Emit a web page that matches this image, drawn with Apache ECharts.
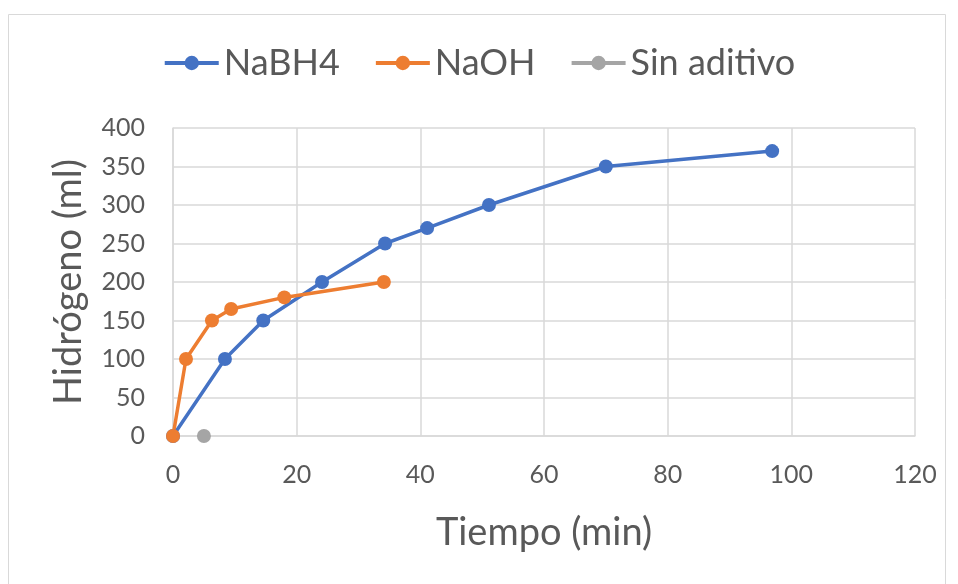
<!DOCTYPE html>
<html>
<head>
<meta charset="utf-8">
<script src="https://cdn.jsdelivr.net/npm/echarts@6/dist/echarts.min.js"></script>
<style>html,body{margin:0;padding:0;background:#fff}#c{width:958px;height:584px}</style>
</head>
<body>
<div id="c"></div>
<script>
const seriesNames = ['NaBH4', 'NaOH', 'Sin aditivo'];
const nabh4Time = [0, 8.4, 14.6, 24.1, 34.3, 41.1, 51.1, 70, 96.9];
const nabh4H2 = [0, 100, 150, 200, 250, 270, 300, 350, 370];
const naohTime = [0, 2.1, 6.3, 9.4, 18, 34.1];
const naohH2 = [0, 100, 150, 165, 180, 200];
const sinTime = [5];
const sinH2 = [0];
const xTicks = { min: 0, max: 120, interval: 20 };
const yTicks = { min: 0, max: 400, interval: 50 };
const colors = ['#4472C4', '#ED7D31', '#A5A5A5'];

const font = 'Lato, "Open Sans", sans-serif';
const zip = (a, b) => a.map((v, i) => [v, b[i]]);
const chart = echarts.init(document.getElementById('c'));
const mk = (name, data, color) => ({
  name, type: 'line', data, color,
  symbol: 'circle', symbolSize: 14,
  lineStyle: { width: 3.5, color },
  itemStyle: { color },
  animation: false
});
chart.setOption({
  animation: false,
  graphic: [{ type: 'rect', shape: { x: 8.5, y: 14.5, width: 937, height: 580 }, style: { fill: 'none', stroke: '#d9d9d9', lineWidth: 1 } }],
  legend: {
    top: 40, left: 'center', itemWidth: 54, itemHeight: 18, itemGap: 34,
    lineStyle: { width: 4 },
    textStyle: { fontFamily: font, fontSize: 36, color: '#595959' },
    data: seriesNames
  },
  grid: { left: 173, right: 43, top: 128, bottom: 148, containLabel: false },
  xAxis: {
    type: 'value', min: xTicks.min, max: xTicks.max, interval: xTicks.interval,
    name: 'Tiempo (min)', nameLocation: 'middle', nameGap: 78,
    nameTextStyle: { fontFamily: font, fontSize: 38, color: '#595959' },
    axisLine: { show: true, lineStyle: { color: '#d9d9d9', width: 1.5 } },
    axisTick: { show: false },
    axisLabel: { margin: 26, fontFamily: font, fontSize: 25, color: '#595959' },
    splitLine: { show: true, lineStyle: { color: '#d9d9d9', width: 1.5 } }
  },
  yAxis: {
    type: 'value', min: yTicks.min, max: yTicks.max, interval: yTicks.interval,
    name: 'Hidrógeno (ml)', nameLocation: 'middle', nameGap: 85, nameRotate: 90,
    nameTextStyle: { fontFamily: font, fontSize: 38, color: '#595959' },
    axisLine: { show: true, lineStyle: { color: '#d9d9d9', width: 1.5 } },
    axisTick: { show: false },
    axisLabel: { margin: 28, fontFamily: font, fontSize: 25, color: '#595959' },
    splitLine: { show: true, lineStyle: { color: '#d9d9d9', width: 1.5 } }
  },
  series: [
    mk(seriesNames[0], zip(nabh4Time, nabh4H2), colors[0]),
    mk(seriesNames[1], zip(naohTime, naohH2), colors[1]),
    mk(seriesNames[2], zip(sinTime, sinH2), colors[2])
  ]
});
</script>
</body>
</html>
